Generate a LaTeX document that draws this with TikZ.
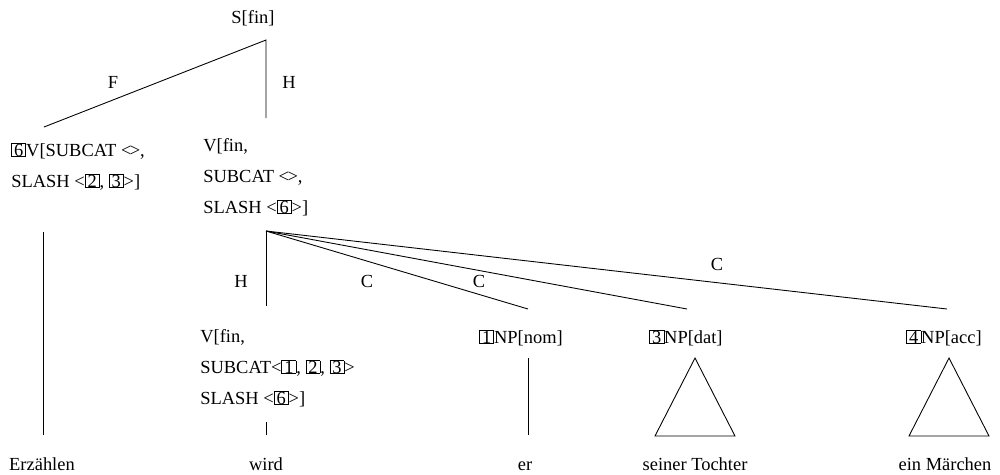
\documentclass[tikz,border=0pt]{standalone}
\usepackage{fontspec}
\setmainfont{Liberation Serif}
\usepackage{tikz}
\usetikzlibrary{positioning}
\newcommand{\bx}[1]{{\setlength{\fboxsep}{0pt}\setlength{\fboxrule}{0.4pt}\fbox{\hspace{1.2pt}#1\hspace{1.2pt}}}}
\newcommand{\lt}{\char"3C\relax}
\newcommand{\gt}{\char"3E\relax}

\begin{document}
\begin{tikzpicture}
	[x=0.02cm,y=-0.02cm,
	cat/.style={inner sep=0pt,font=\fontsize{10.5}{17.6}\selectfont},
	catl/.style={cat,align=left,anchor=base west},
	lab/.style={inner sep=0pt,font=\fontsize{10.5}{12}\selectfont},
	leaf/.style={lab,anchor=base},
	branch/.style={black,line width=0.5pt}]
	\useasboundingbox (0,0) rectangle (1000,474);

	%oben
	\node[cat,anchor=base] (s) at (253,23) {S[fin]};
	\coordinate (sv) at (266,40);
	\coordinate (fend) at (44,127);
	\coordinate (hend) at (266,118);
	\draw[branch] (fend) -- (sv) -- (hend);
	\node[lab] (f) at (113,82) {F};
	\node[lab] (h) at (289,82) {H};

	%filler
	\node[catl] (vf) at (11,187) {\bx{6}V[SUBCAT \lt\kern-0.9pt\gt,\\SLASH \lt\bx{2}, \bx{3}\gt]};
	\coordinate (vft) at (43,232);
	\coordinate (vfb) at (43,435);
	\draw[branch] (vft) -- (vfb);

	%kopf
	\node[catl] (vh) at (203,213) {V[fin,\\SUBCAT \lt\kern-0.9pt\gt,\\SLASH \lt\bx{6}\gt]};
	\coordinate (vhv) at (266,231);
	\coordinate (c0) at (266,306);
	\coordinate (c1) at (528,309);
	\coordinate (c2) at (687,309);
	\coordinate (c3) at (947,309);
	\draw[branch] (vhv) -- (c0);
	\foreach \c in {c1,c2,c3}
		\draw[branch] (vhv) -- (\c);
	\node[lab] (h2) at (241,281) {H};
	\node[lab] (k1) at (367,281) {C};
	\node[lab] (k2) at (479,281) {C};
	\node[lab] (k3) at (717,264) {C};

	%toechter
	\node[catl] (vw) at (200,404) {V[fin,\\SUBCAT\lt\bx{1}, \bx{2}, \bx{3}\gt\\SLASH \lt\bx{6}\gt]};
	\node[cat,anchor=base] (np1) at (521,343) {\bx{1}NP[nom]};
	\node[cat,anchor=base] (np3) at (686,343) {\bx{3}NP[dat]};
	\node[cat,anchor=base] (np4) at (944,343) {\bx{4}NP[acc]};
	\coordinate (vwt) at (266,422);
	\coordinate (vwb) at (266,435);
	\coordinate (np1t) at (528,358);
	\coordinate (np1b) at (528,435);
	\draw[branch] (vwt) -- (vwb);
	\draw[branch] (np1t) -- (np1b);
	\draw[branch] (695,358) -- (735,436) -- (655,436) -- cycle;
	\draw[branch] (949,358) -- (989,436) -- (909,436) -- cycle;

	%woerter
	\node[leaf] (w1) at (42,470) {Erzählen};
	\node[leaf] (w2) at (266,470) {wird};
	\node[leaf] (w3) at (525,470) {er};
	\node[leaf] (w4) at (695,470) {seiner Tochter};
	\node[leaf] (w5) at (945,470) {ein Märchen};
\end{tikzpicture}
\end{document}
